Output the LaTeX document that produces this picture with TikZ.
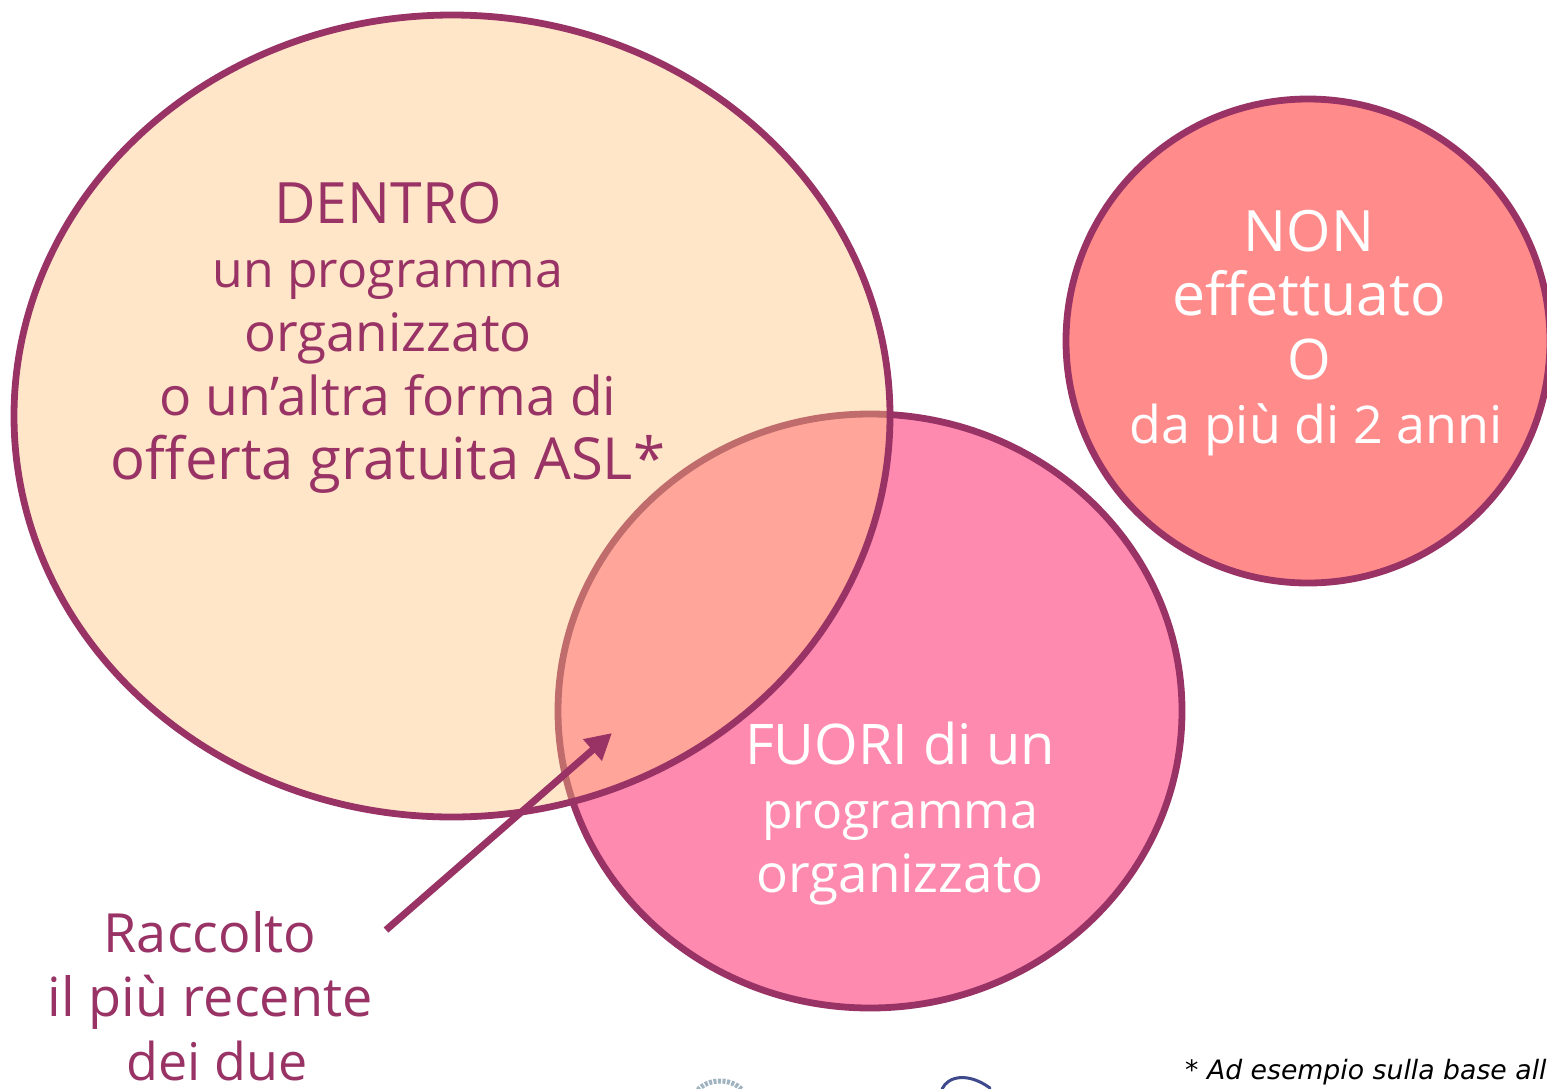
\documentclass[tikz,border=0pt]{standalone}
\usepackage{fontspec}
\setmainfont{Open Sans}
\newfontfamily\notefont{DejaVu Sans}
\usetikzlibrary{arrows.meta}
\definecolor{plum}{HTML}{993366}
\definecolor{peach}{HTML}{FFE6C8}
\definecolor{rosa}{HTML}{FF8AB0}
\definecolor{salmon}{HTML}{FFA599}
\definecolor{coral}{HTML}{FF8B8B}
\definecolor{softrim}{HTML}{C06C6C}
\definecolor{logogrey}{HTML}{9FB4C0}
\definecolor{logoblue}{HTML}{3F4A8C}
\newcommand{\lsize}[1]{\fontsize{#1}{64}\selectfont}
\tikzset{
  x=1pt,y=-1pt,
  ring/.style={line width=6.8pt,draw=plum},
  lab/.style={align=center,font=\fontsize{56}{64}\selectfont,inner sep=0pt},
}
\begin{document}
\begin{tikzpicture}
\useasboundingbox (0,0) rectangle (1547,1088);
\clip (0,0) rectangle (1547,1088);
\fill[white] (0,0) rectangle (1547,1088);
% outside circle
\path[ring,fill=rosa] (870,711) ellipse [x radius=312,y radius=297];
% inside circle
\fill[peach] (452,416) ellipse [x radius=438,y radius=401];
% overlap
\begin{scope}
  \clip (452,416) ellipse [x radius=438,y radius=401];
  \path[line width=6.8pt,draw=softrim,fill=salmon] (870,711) ellipse [x radius=312,y radius=297];
\end{scope}
\draw[ring] (452,416) ellipse [x radius=438,y radius=401];
% not done circle
\path[ring,fill=coral] (1308,341) ellipse [x radius=242,y radius=242];
% labels
\node[lab,text=plum] (dentro) at (388,338) {\lsize{57}DENTRO\\\lsize{50}un programma\\\lsize{53}organizzato\\\lsize{53.5}o un’altra forma di\\\lsize{58}offerta gratuita ASL*};
\node[lab,text=white] (fuori) at (900,814) {\lsize{56}FUORI di un\\\lsize{50}programma\\\lsize{53}organizzato};
\node[lab,text=white] (non) at (1309,333) {\lsize{57}NON\\\lsize{59}effettuato\\\lsize{56}O\\\hspace*{14pt}\lsize{52}da più di 2 anni};
\node[lab,text=plum] (raccolto) at (210,996) {\lsize{54}Raccolto\\\lsize{54}il più recente\\\hspace*{14pt}\lsize{52}dei due};
\node[anchor=west,inner sep=0pt,font=\notefont\itshape\fontsize{26.7}{30}\selectfont] (nota) at (1185,1072) {* Ad esempio sulla base all};
% arrow
\coordinate (from) at (386,930);
\coordinate (to) at (612,733);
\draw[plum,line width=7pt,-{Triangle[length=26pt,width=27pt]}] (from) -- (to);
% cropped logos at the lower edge
\draw[logogrey,line width=5pt,dash pattern=on 3pt off 1.5pt] (698,1090) .. controls (708,1078) and (732,1078) .. (742,1090);
\draw[logoblue,line width=3pt,line cap=round] (942,1089) .. controls (948,1076) and (968,1072) .. (990,1088);
\end{tikzpicture}
\end{document}
